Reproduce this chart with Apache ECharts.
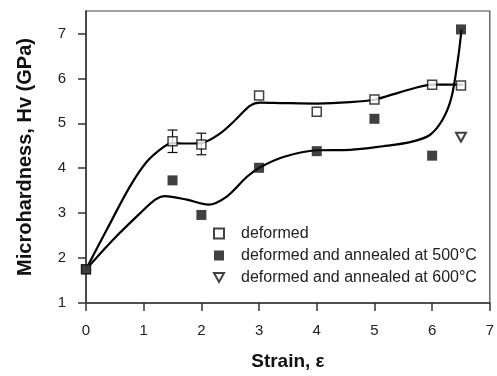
<!DOCTYPE html>
<html>
<head>
<meta charset="utf-8">
<script src="https://cdn.jsdelivr.net/npm/echarts@6/dist/echarts.min.js"></script>
<style>
    html, body { margin: 0; padding: 0; background: #fff; }
    #chart { width: 497px; height: 376px; }
</style>
</head>
<body>
<div id="chart"></div>
<script>
// measured points
var strainDef = [0, 1.5, 2, 3, 4, 5, 6, 6.5];
var hvDef = [1.75, 4.6, 4.53, 5.62, 5.26, 5.53, 5.86, 5.84];
var errX = [1.5, 2];
var errLow = [4.35, 4.3];
var errHigh = [4.85, 4.78];

var strain500 = [0, 1.5, 2, 3, 4, 5, 6, 6.5];
var hv500 = [1.75, 3.73, 2.96, 4.01, 4.38, 5.1, 4.28, 7.09];

var strain600 = [6.5];
var hv600 = [4.69];

// fitted curves
var fitDefX = [0, 0.38, 0.76, 1.05, 1.34, 1.49, 1.75, 2.0, 2.32, 2.61, 2.84, 3.02, 3.42, 4.0, 4.58, 5.01, 5.44, 6.02, 6.54];
var fitDefY = [1.75, 2.68, 3.59, 4.14, 4.47, 4.56, 4.55, 4.56, 4.77, 5.1, 5.39, 5.46, 5.45, 5.44, 5.47, 5.53, 5.69, 5.86, 5.86];
var fit500X = [0, 0.47, 0.94, 1.2, 1.37, 1.75, 2.12, 2.44, 2.79, 3.02, 3.42, 4.0, 4.58, 5.15, 5.62, 5.96, 6.19, 6.34, 6.45, 6.51];
var fit500Y = [1.75, 2.41, 3.0, 3.3, 3.38, 3.3, 3.19, 3.37, 3.81, 4.02, 4.25, 4.4, 4.41, 4.49, 4.58, 4.74, 5.1, 5.6, 6.45, 7.09];

var xTicks = [0, 1, 2, 3, 4, 5, 6, 7];
var yTicks = [1, 2, 3, 4, 5, 6, 7];

var names = ["deformed", "deformed and annealed at 500°C", "deformed and annealed at 600°C"];

function zip(a, b) {
    return a.map(function(v, i) { return [v, b[i]]; });
}

var font = "'Liberation Sans', Arial, sans-serif";
var downTri = "path://M0,0 L10,0 L5,9 Z";
var chart = echarts.init(document.getElementById("chart"), null, { renderer: "canvas" });

function renderErr(params, api) {
    var lo = api.coord([api.value(0), api.value(1)]);
    var hi = api.coord([api.value(0), api.value(2)]);
    var w = 5;
    var st = { stroke: "#111", lineWidth: 1.2 };
    return {
        type: "group",
        children: [
            { type: "line", shape: { x1: lo[0], y1: lo[1], x2: hi[0], y2: hi[1] }, style: st },
            { type: "line", shape: { x1: lo[0] - w, y1: lo[1], x2: lo[0] + w, y2: lo[1] }, style: st },
            { type: "line", shape: { x1: hi[0] - w, y1: hi[1], x2: hi[0] + w, y2: hi[1] }, style: st }
        ]
    };
}

var option = {
    animation: false,
    backgroundColor: "#fff",
    grid: {
        left: 86, right: 5, top: 11, bottom: 72,
        show: true, borderColor: "#444", borderWidth: 1.2
    },
    legend: {
        orient: "vertical",
        left: 208, top: 220,
        itemWidth: 10, itemHeight: 10, itemGap: 5,
        data: names,
        textStyle: { fontFamily: font, fontSize: 16, color: "#222", padding: [0, 0, 0, 12], lineHeight: 17 }
    },
    xAxis: {
        type: "value", min: 0, max: 7, interval: 1,
        name: "Strain, ε", nameLocation: "middle", nameGap: 49,
        nameTextStyle: { fontFamily: font, fontSize: 19, fontWeight: "bold", color: "#111" },
        axisLine: { lineStyle: { color: "#333", width: 1.5 } },
        axisTick: { length: 8, lineStyle: { color: "#333", width: 1.5 }, customValues: xTicks },
        axisLabel: { margin: 20, fontFamily: font, fontSize: 15, color: "#222", customValues: xTicks },
        splitLine: { show: false }
    },
    yAxis: {
        type: "value", min: 1, max: 7.5,
        name: "Microhardness, Hv (GPa)", nameLocation: "middle", nameGap: 51,
        nameTextStyle: { fontFamily: font, fontSize: 20, fontWeight: "bold", color: "#111" },
        axisLine: { show: true, lineStyle: { color: "#333", width: 1.5 } },
        axisTick: { show: true, length: 8, lineStyle: { color: "#333", width: 1.5 }, customValues: yTicks },
        axisLabel: { margin: 20, fontFamily: font, fontSize: 15, color: "#222", customValues: yTicks },
        splitLine: { show: false }
    },
    series: [
        {
            type: "line", data: zip(fitDefX, fitDefY), smooth: 0.3,
            showSymbol: false, lineStyle: { color: "#000", width: 2.2 }, silent: true
        },
        {
            type: "line", data: zip(fit500X, fit500Y), smooth: 0.3,
            showSymbol: false, lineStyle: { color: "#000", width: 2.2 }, silent: true
        },
        {
            type: "custom", renderItem: renderErr, encode: { x: 0, y: [1, 2] },
            data: errX.map(function(x, i) { return [x, errLow[i], errHigh[i]]; }), z: 3
        },
        {
            name: names[0], type: "scatter", data: zip(strainDef, hvDef),
            symbol: "rect", symbolSize: 9, z: 4,
            itemStyle: { color: "#fff", borderColor: "#111", borderWidth: 1.5 }
        },
        {
            name: names[1], type: "scatter", data: zip(strain500, hv500),
            symbol: "rect", symbolSize: 10, z: 4,
            itemStyle: { color: "#111", borderColor: "#111", borderWidth: 0 }
        },
        {
            name: names[2], type: "scatter", data: zip(strain600, hv600),
            symbol: downTri, symbolSize: [10, 9], z: 4,
            itemStyle: { color: "#fff", borderColor: "#111", borderWidth: 2 }
        }
    ]
};

chart.setOption(option);
</script>
</body>
</html>
